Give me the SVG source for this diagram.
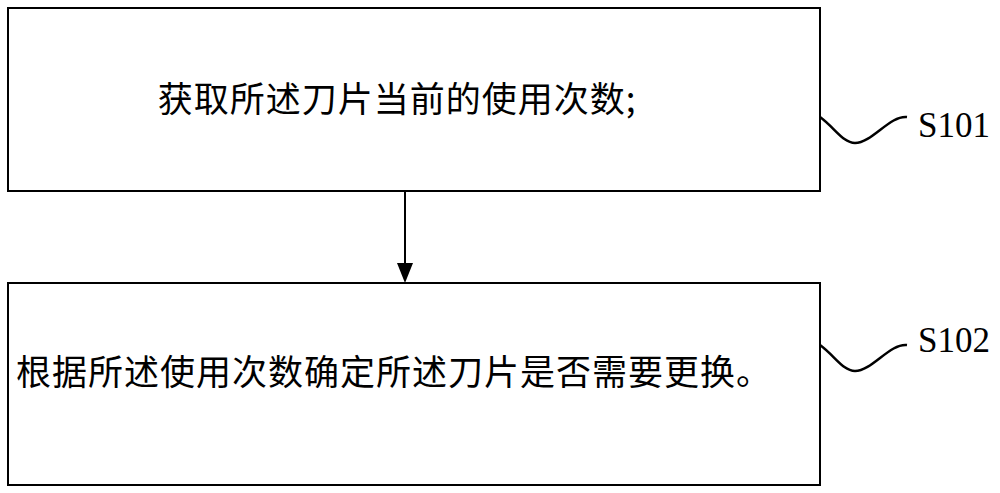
<svg xmlns="http://www.w3.org/2000/svg" width="1000" height="493" viewBox="0 0 1000 493">
<style>
.box{fill:#fff;stroke:#000;stroke-width:2}
.t{font-family:"Noto Sans CJK SC","Noto Sans CJK JP",sans-serif;font-size:35px;letter-spacing:1px;fill:#000}
.l{font-family:"Liberation Serif",serif;font-size:35px;fill:#000}
.w{fill:none;stroke:#000;stroke-width:2.5}
</style>
<rect width="1000" height="493" fill="#fff"/>
<g id="n1"><rect class="box" x="8" y="8" width="812" height="183"/><text class="t" x="397" y="112" text-anchor="middle">获取所述刀片当前的使用次数;</text></g>
<g id="n2"><rect class="box" x="8" y="283" width="812" height="202"/><text class="t" x="16" y="385">根据所述使用次数确定所述刀片是否需要更换。</text></g>
<g id="labels"><path class="w" d="M820,117 C835,128 843,143 855,143 C872,143 890,115 907,117"/><text class="l" x="918" y="137">S101</text>
<path class="w" d="M820,345 C835,356 843,371 855,371 C872,371 890,343 907,345"/><text class="l" x="918" y="352">S102</text></g>
<g id="connectors"><line x1="405" y1="191" x2="405" y2="265" stroke="#000" stroke-width="2"/><path d="M397,263L413,263L405,283Z"/></g>
</svg>
